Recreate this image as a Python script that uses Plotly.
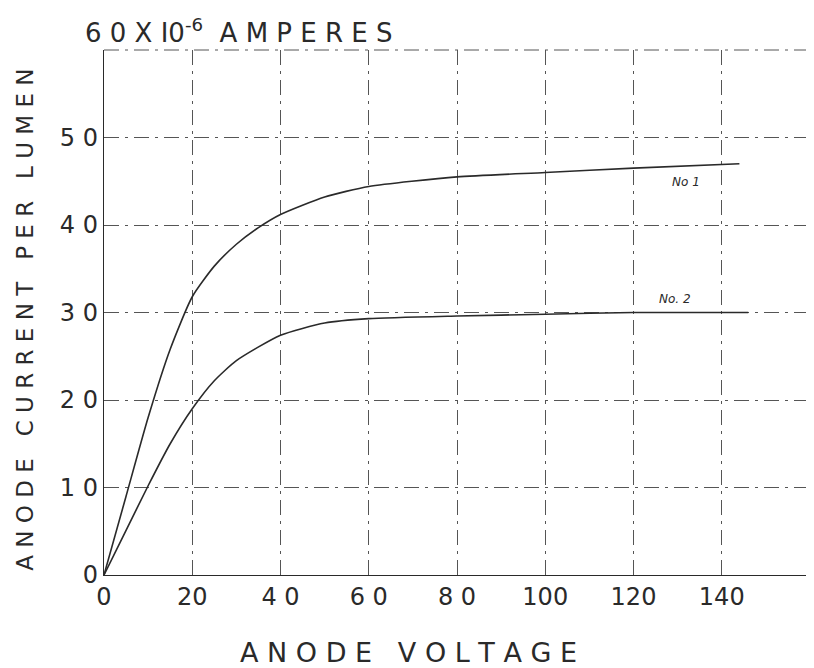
import plotly.graph_objects as go

# Curve No. 1
v1 = [0, 5, 10, 15, 20, 25, 30, 35, 40, 50, 60, 80, 100, 120, 144]
i1 = [0, 9, 18, 25.8, 31.8, 35.3, 37.8, 39.7, 41.2, 43.2, 44.4, 45.5, 46, 46.5, 47]
# Curve No. 2
v2 = [0, 5, 10, 15, 20, 25, 30, 40, 50, 60, 80, 100, 120, 146]
i2 = [0, 5.1, 10.2, 15, 19, 22.2, 24.5, 27.4, 28.8, 29.3, 29.6, 29.8, 30, 30]

x_ticks = [0, 20, 40, 60, 80, 100, 120, 140, 160]
x_labels = ["0", "20", "4 0", "6 0", "8 0", "100", "120", "140", ""]
y_ticks = [0, 10, 20, 30, 40, 50, 60]
y_labels = ["0", "1 0", "2 0", "3 0", "4 0", "5 0", ""]

ink = "#2a2a2a"
font = "DejaVu Sans"

fig = go.Figure()
fig.add_trace(go.Scatter(x=v1, y=i1, mode="lines", line=dict(color=ink, width=1.6, shape="spline", smoothing=0.6), showlegend=False))
fig.add_trace(go.Scatter(x=v2, y=i2, mode="lines", line=dict(color=ink, width=1.6, shape="spline", smoothing=0.6), showlegend=False))

fig.add_annotation(x=132, y=44.9, text="<i>No 1</i>", showarrow=False, font=dict(family=font, size=12, color=ink), xanchor="center", yanchor="middle")
fig.add_annotation(x=129.5, y=31.5, text="<i>No. 2</i>", showarrow=False, font=dict(family=font, size=12, color=ink), xanchor="center", yanchor="middle")

fig.add_annotation(xref="paper", yref="paper", x=-0.03, y=1.0, xanchor="left", yanchor="bottom",
                   text="6 0 X I0<sup>-6</sup>  A M P E R E S", showarrow=False,
                   font=dict(family=font, size=26, color=ink))
fig.add_annotation(xref="paper", yref="paper", x=0.432, y=-0.148, xanchor="center", yanchor="middle",
                   text="A N O D E   V O L T A G E", showarrow=False,
                   font=dict(family=font, size=27, color=ink))
fig.add_annotation(xref="paper", yref="paper", x=-0.112, y=0.486, xanchor="center", yanchor="middle",
                   text="A N O D E   C U R R E N T   P E R   L U M E N", showarrow=False, textangle=-90,
                   font=dict(family=font, size=23, color=ink))

# dashed top and right borders of the grid
fig.add_shape(type="line", xref="paper", yref="paper", x0=0, x1=1, y0=1, y1=1,
              line=dict(color="#555", width=1, dash="longdashdot"))
fig.add_shape(type="line", xref="paper", yref="paper", x0=0.999, x1=0.999, y0=0, y1=1,
              line=dict(color="#555", width=1, dash="longdashdot"))

fig.update_xaxes(range=[0, 160], tickvals=x_ticks, ticktext=x_labels,
                 showgrid=True, gridcolor="#555", gridwidth=1, griddash="longdashdot",
                 showline=True, linecolor=ink, linewidth=1.4, zeroline=False, automargin=False,
                 ticks="", tickfont=dict(family=font, size=24, color=ink))
fig.update_yaxes(range=[0, 60], tickvals=y_ticks, ticktext=y_labels,
                 showgrid=True, gridcolor="#555", gridwidth=1, griddash="longdashdot",
                 showline=True, linecolor=ink, linewidth=1.4, zeroline=False, automargin=False,
                 ticks="", tickfont=dict(family=font, size=24, color=ink))

fig.update_layout(width=806, height=660, margin=dict(l=96, r=4, t=42, b=93),
                  plot_bgcolor="white", paper_bgcolor="white")

fig.write_html("out.html")
